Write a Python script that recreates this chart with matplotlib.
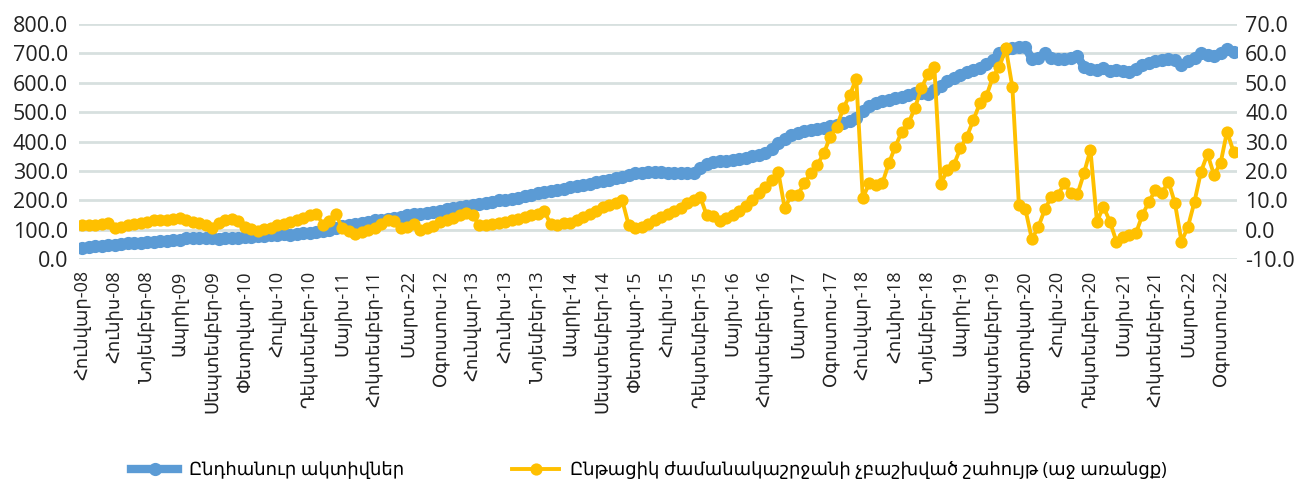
import matplotlib
matplotlib.use("Agg")
import matplotlib.pyplot as plt
import numpy as np

plt.rcParams["font.family"] = ["Open Sans", "DejaVu Sans"]

# monthly data, Jan-08 .. Oct-22
total_assets = [
    40, 42, 44, 46, 48, 50, 52, 54, 56, 57, 58, 60,
    62, 63, 64, 66, 72, 74, 73, 72, 71, 70, 71, 72,
    74, 76, 75, 78, 80, 82, 84, 85, 84, 86, 88, 90,
    92, 95, 100, 106, 112, 117, 120, 125, 128, 132, 134, 137,
    140, 145, 150, 153, 155, 157, 160, 165, 170, 175, 178, 182,
    185, 188, 192, 196, 200, 203, 206, 210, 214, 220, 225, 230,
    233, 236, 240, 245, 250, 253, 257, 262, 266, 270, 275, 280,
    285, 292, 295, 296, 297, 296, 295, 295, 294, 293, 292, 310,
    325, 330, 333, 335, 337, 340, 345, 350, 355, 362, 375, 395,
    410, 422, 430, 437, 440, 443, 448, 452, 455, 462, 470, 480,
    505, 520, 532, 538, 542, 547, 552, 560, 564, 566, 562, 575,
    590, 605, 618, 628, 636, 643, 652, 665, 678, 700, 715, 720,
    723, 722, 680, 685, 700, 683, 680, 682, 684, 690, 655, 648,
    645, 650, 640, 645, 640, 638, 648, 660, 668, 675, 678, 680,
    678, 660, 675, 685, 700, 695, 690, 700, 715, 706,
]

current_profit = [
    1.8, 1.6, 1.8, 2.0, 2.4, 0.6, 0.9, 1.5, 2.0, 2.5, 2.8, 3.3,
    3.2, 3.5, 3.8, 4.2, 3.5, 2.8, 2.5, 1.5, 0.8, 2.5, 3.2, 3.6,
    3.0, 1.0, 0.2, -0.3, 0.3, 0.8, 1.5, 2.0, 2.6, 3.2, 4.0, 5.0,
    5.5, 1.8, 3.0, 5.3, 0.5, -0.5, -1.5, -0.8, 0.0, 0.8, 2.0, 3.4,
    3.0, 0.5, 1.0, 2.0, 0.0, 0.5, 1.2, 2.8, 3.5, 4.2, 5.0, 5.6,
    5.1, 1.7, 1.5, 2.0, 2.3, 2.8, 3.3, 3.8, 4.3, 5.0, 5.5, 6.5,
    2.0, 1.8, 2.2, 2.3, 3.5, 4.5, 5.5, 6.5, 7.8, 8.5, 9.2, 10.2,
    1.7, 0.5, 1.0, 2.0, 3.5, 4.5, 5.5, 6.5, 7.5, 9.0, 10.0, 11.3,
    5.0, 4.8, 3.0, 4.0, 5.2, 6.5, 8.0, 10.0, 12.5, 14.7, 17.0, 19.8,
    7.3, 11.9, 11.9, 15.8, 19.2, 22.1, 26.0, 31.7, 35.1, 41.3, 45.9, 51.3,
    10.9, 15.8, 15.3, 15.8, 22.6, 28.3, 33.4, 36.2, 41.3, 48.1, 52.9, 55.5,
    15.6, 20.4, 22.1, 27.7, 31.7, 37.4, 43.0, 45.5, 52.0, 55.5, 61.7, 48.5,
    8.5, 7.0, -3.2, 1.1, 7.0, 11.3, 11.9, 15.8, 12.6, 12.1, 19.2, 27.2,
    2.8, 7.9, 2.8, -4.0, -2.3, -1.7, -1.1, 5.1, 9.6, 13.6, 12.6, 16.4,
    9.0, -4.0, 1.1, 9.6, 19.8, 25.8, 18.7, 22.6, 33.4, 26.6,
]

tick_labels = [
    "Հունվար-08", "Հունիս-08", "Նոյեմբեր-08", "Ապրիլ-09", "Սեպտեմբեր-09",
    "Փետրվար-10", "Հուլիս-10", "Դեկտեմբեր-10", "Մայիս-11", "Հոկտեմբեր-11",
    "Մարտ-22", "Օգոստոս-12", "Հունվար-13", "Հունիս-13", "Նոյեմբեր-13",
    "Ապրիլ-14", "Սեպտեմբեր-14", "Փետրվար-15", "Հուլիս-15", "Դեկտեմբեր-15",
    "Մայիս-16", "Հոկտեմբեր-16", "Մարտ-17", "Օգոստոս-17", "Հունվար-18",
    "Հունիս-18", "Նոյեմբեր-18", "Ապրիլ-19", "Սեպտեմբեր-19", "Փետրվար-20",
    "Հուլիս-20", "Դեկտեմբեր-20", "Մայիս-21", "Հոկտեմբեր-21", "Մարտ-22",
    "Օգոստոս-22",
]

series_names = ["Ընդհանուր ակտիվներ",
                "Ընթացիկ ժամանակաշրջանի չբաշխված շահույթ (աջ առանցք)"]

blue = "#5b9bd5"
gold = "#ffc000"
grid = "#d7e0df"

x = np.arange(len(total_assets))

fig = plt.figure(figsize=(13.06, 4.86), dpi=100)
ax = fig.add_axes([0.0605, 0.4665, 0.8865, 0.4841])
ax2 = ax.twinx()

ax.set_ylim(0, 800)
ax.set_yticks(np.arange(0, 801, 100))
ax.set_yticklabels([f"{v:.1f}" for v in range(0, 801, 100)])
ax2.set_ylim(-10, 70)
ax2.set_yticks(np.arange(-10, 71, 10))
ax2.set_yticklabels([f"{v:.1f}" for v in range(-10, 71, 10)])

for v in range(0, 801, 100):
    ax.axhline(v, color=grid, lw=2, zorder=0)

l1, = ax.plot(x, total_assets, color=blue, lw=6, marker="o", ms=9.5,
              markeredgewidth=0, label=series_names[0], zorder=3)
l2, = ax2.plot(x, current_profit, color=gold, lw=2.8, marker="o", ms=8.8,
               markeredgewidth=0, label=series_names[1], zorder=4)

ax.set_xlim(-0.5, len(x) - 0.5)
ax.set_xticks(x[::5])
ax.set_xticklabels(tick_labels, rotation=90, fontsize=13, color="#222222")

for a in (ax, ax2):
    for s in a.spines.values():
        s.set_visible(False)
    a.tick_params(length=0)
ax.tick_params(axis="y", labelsize=15.5, labelcolor="#222222", pad=8)
ax2.tick_params(axis="y", labelsize=15.5, labelcolor="#222222", pad=6)
ax.tick_params(axis="x", pad=8)

fig.legend(handles=[l1, l2], loc="center", bbox_to_anchor=(0.497, 0.033),
           ncol=2, frameon=False, fontsize=13, columnspacing=6,
           handlelength=2.6, handletextpad=0.6)

fig.savefig("out.png", dpi=100)
